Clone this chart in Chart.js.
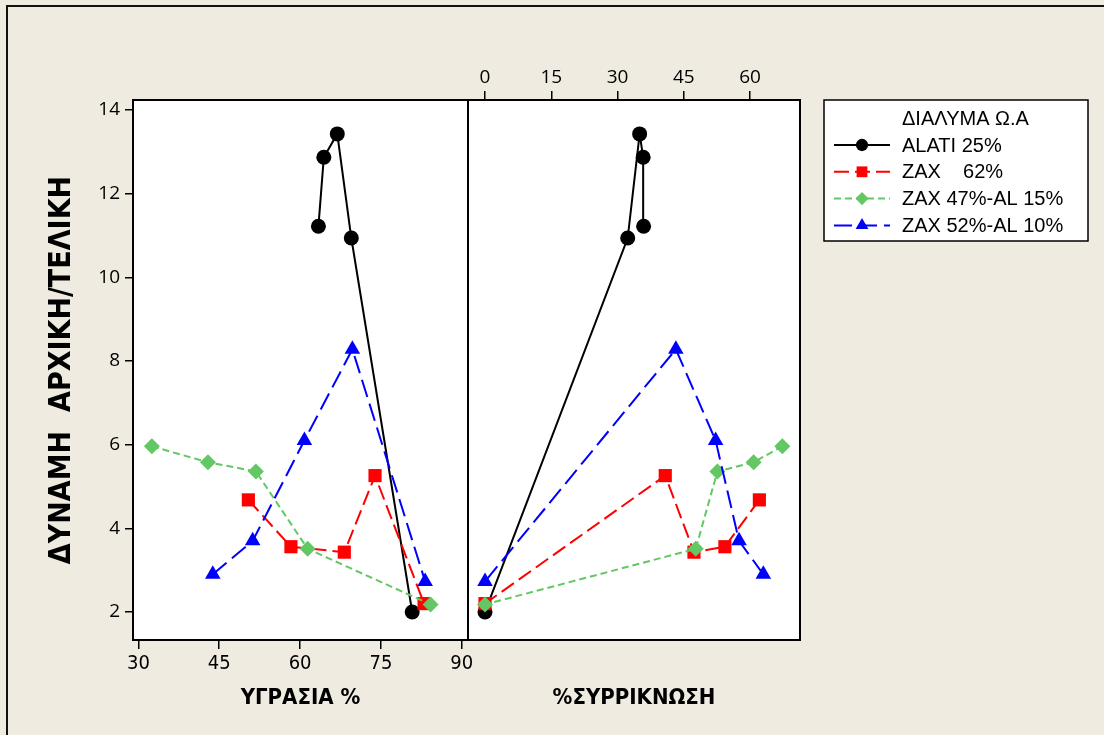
<!DOCTYPE html>
<html>
<head>
<meta charset="utf-8">
<title>ΔΥΝΑΜΗ ΑΡΧΙΚΗ/ΤΕΛΙΚΗ</title>
<script src="https://cdn.jsdelivr.net/npm/chart.js@4.4.1/dist/chart.umd.min.js"></script>
<style>
  html, body { margin: 0; padding: 0; background: #EFEBE1; }
  #wrap { position: relative; width: 1104px; height: 735px; overflow: hidden; background: #EFEBE1; }
  #frame { position: absolute; left: 6px; top: 5px; right: -10px; bottom: -10px;
           border-top: 2px solid #111; border-left: 2px solid #111; }
  canvas { position: absolute; left: 0; top: 0; }
</style>
</head>
<body>
<div id="wrap">
  <div id="frame"></div>
  <canvas id="moistureChart" width="1104" height="735"></canvas>
  <canvas id="shrinkageChart" width="1104" height="735"></canvas>
</div>
<script>
// ---- data: five samples per solution, listed in the same order in every array ----
const seriesNames = ['ALATI 25%', 'ZAX    62%', 'ZAX 47%-AL 15%', 'ZAX 52%-AL 10%'];
const legendTitle = 'ΔΙΑΛΥΜΑ Ω.Α';

// ΥΓΡΑΣΙΑ %
const alatiMoisture = [63.4, 64.4, 66.9, 69.5, 80.8];
const zax62Moisture = [50.4, 58.3, 68.2, 73.9, 83.0];
const zax47Moisture = [32.5, 42.9, 51.8, 61.4, 84.2];
const zax52Moisture = [43.8, 51.2, 60.8, 69.7, 83.2];

// %ΣΥΡΡΙΚΝΩΣΗ
const alatiShrinkage = [35.9, 35.8, 35.0, 32.3, 0];
const zax62Shrinkage = [62.1, 54.3, 47.3, 40.8, 0];
const zax47Shrinkage = [67.3, 60.8, 52.6, 47.7, 0];
const zax52Shrinkage = [63.0, 57.5, 52.2, 43.2, 0];

// ΔΥΝΑΜΗ ΑΡΧΙΚΗ/ΤΕΛΙΚΗ
const alatiStrength = [11.22, 12.87, 13.43, 10.94, 2.0];
const zax62Strength = [4.68, 3.56, 3.43, 5.26, 2.2];
const zax47Strength = [5.96, 5.58, 5.36, 3.51, 2.18];
const zax52Strength = [2.9, 3.7, 6.1, 8.28, 2.73];

// tick labels
const strengthTicks = [2, 4, 6, 8, 10, 12, 14];
const moistureTicks = [30, 45, 60, 75, 90];
const shrinkageTicks = [0, 15, 30, 45, 60];

// ---- appearance ----
const NARROW = '"Liberation Sans Narrow", "DejaVu Sans Condensed", "Liberation Sans", sans-serif';
const TICKFONT = '"Open Sans", "Liberation Sans", sans-serif';
const LEGENDFONT = '"Liberation Sans", Arial, sans-serif';

const seriesStyles = [
  { color: '#000000', point: 'circle',   radius: 7.5, dash: [],      order: 4 },
  { color: '#FF0000', point: 'rect',     radius: 9.3, dash: [15, 6], order: 3 },
  { color: '#63C763', point: 'rectRot',  radius: 8,   dash: [7, 4],  order: 2 },
  { color: '#0000FF', point: 'triangle', radius: 9,   dash: [18, 7], order: 1 }
];

const strengthSeries = [alatiStrength, zax62Strength, zax47Strength, zax52Strength];
const moistureSeries = [alatiMoisture, zax62Moisture, zax47Moisture, zax52Moisture];
const shrinkageSeries = [alatiShrinkage, zax62Shrinkage, zax47Shrinkage, zax52Shrinkage];

function buildDatasets(xSeries, xAxisID) {
  return seriesNames.map((name, s) => {
    const st = seriesStyles[s];
    return {
      label: name,
      data: xSeries[s].map((x, i) => ({ x: x, y: strengthSeries[s][i] })),
      xAxisID: xAxisID,
      yAxisID: 'y',
      borderColor: st.color,
      backgroundColor: st.color,
      pointBackgroundColor: st.color,
      pointBorderColor: st.color,
      pointBorderWidth: 0,
      pointStyle: st.point,
      pointRadius: st.radius,
      pointHoverRadius: st.radius,
      borderWidth: 2,
      borderDash: st.dash,
      tension: 0,
      fill: false,
      order: st.order
    };
  });
}

// white panel with a black frame
const panelFrame = {
  id: 'panelFrame',
  beforeDraw(chart) {
    const a = chart.chartArea, ctx = chart.ctx;
    ctx.save();
    ctx.fillStyle = '#FFFFFF';
    ctx.fillRect(a.left, a.top, a.right - a.left, a.bottom - a.top);
    ctx.restore();
  },
  afterDatasetsDraw(chart) {
    const a = chart.chartArea, ctx = chart.ctx;
    ctx.save();
    ctx.strokeStyle = '#000000';
    ctx.lineWidth = 2;
    ctx.strokeRect(a.left, a.top, a.right - a.left, a.bottom - a.top);
    ctx.restore();
  }
};

function drawMarker(ctx, style, x, y, r) {
  ctx.beginPath();
  if (style === 'circle') {
    ctx.arc(x, y, r, 0, Math.PI * 2);
  } else if (style === 'rect') {
    const s = r * Math.SQRT1_2;
    ctx.rect(x - s, y - s, 2 * s, 2 * s);
  } else if (style === 'rectRot') {
    ctx.moveTo(x - r, y); ctx.lineTo(x, y - r); ctx.lineTo(x + r, y); ctx.lineTo(x, y + r);
    ctx.closePath();
  } else {
    const h = r * Math.sin(Math.PI / 3);
    ctx.moveTo(x, y - r); ctx.lineTo(x + h, y + r / 2); ctx.lineTo(x - h, y + r / 2);
    ctx.closePath();
  }
  ctx.fill();
}

// legend with line + symbol samples
const sampleLegend = {
  id: 'sampleLegend',
  afterDraw(chart) {
    const ctx = chart.ctx;
    const box = { left: 824, top: 100, right: 1088, bottom: 241 };
    ctx.save();
    ctx.fillStyle = '#FFFFFF';
    ctx.fillRect(box.left, box.top, box.right - box.left, box.bottom - box.top);
    ctx.strokeStyle = '#000000';
    ctx.lineWidth = 1.5;
    ctx.strokeRect(box.left, box.top, box.right - box.left, box.bottom - box.top);
    ctx.font = '20px ' + LEGENDFONT;
    ctx.fillStyle = '#000000';
    ctx.textAlign = 'left';
    ctx.textBaseline = 'middle';
    ctx.fillText(legendTitle, 902, 119.5);
    chart.data.datasets.forEach((ds, i) => {
      const y = 145 + i * 26.8;
      ctx.strokeStyle = ds.borderColor;
      ctx.lineWidth = ds.borderWidth;
      ctx.setLineDash(ds.borderDash);
      ctx.beginPath();
      ctx.moveTo(834, y);
      ctx.lineTo(890, y);
      ctx.stroke();
      ctx.setLineDash([]);
      ctx.fillStyle = ds.pointBackgroundColor;
      drawMarker(ctx, ds.pointStyle, 862, y, ds.pointRadius * 0.82);
      ctx.fillStyle = '#000000';
      ctx.fillText(ds.label, 902, y + 1);
    });
    ctx.restore();
  }
};

function fixSize(prop, value) {
  return function (scale) {
    scale[prop] = value;
    scale.paddingLeft = 0; scale.paddingRight = 0;
    scale.paddingTop = 0; scale.paddingBottom = 0;
  };
}
function setTicks(list) {
  return function (scale) { scale.ticks = list.map(v => ({ value: v })); };
}

const strengthMin = 1.33, strengthMax = 14.24;

const tickGrid = (len) => ({
  display: true, drawOnChartArea: false, drawTicks: true,
  tickLength: len, color: '#000000', lineWidth: 1.5
});

// left panel: strength against moisture
new Chart(document.getElementById('moistureChart'), {
  type: 'line',
  data: { datasets: buildDatasets(moistureSeries, 'x') },
  options: {
    responsive: false,
    animation: false,
    devicePixelRatio: 1,
    layout: { padding: { left: 0, top: 100, right: 636, bottom: 0 } },
    plugins: { legend: { display: false }, tooltip: { enabled: false } },
    scales: {
      x: {
        type: 'linear', position: 'bottom', min: 29.0, max: 91.15,
        afterBuildTicks: setTicks(moistureTicks),
        afterFit: fixSize('height', 95),
        ticks: { font: { family: NARROW, size: 20 }, color: '#000', padding: 3, maxRotation: 0 },
        grid: tickGrid(9),
        border: { display: false },
        title: { display: true, text: 'ΥΓΡΑΣΙΑ %', color: '#000',
                 font: { family: NARROW, size: 22, weight: 'bold' },
                 padding: { top: 0, bottom: 24 } }
      },
      y: {
        type: 'linear', position: 'left', min: strengthMin, max: strengthMax,
        afterBuildTicks: setTicks(strengthTicks),
        afterFit: fixSize('width', 133),
        ticks: { font: { family: TICKFONT, size: 19 }, color: '#000', padding: 5 },
        grid: tickGrid(8),
        border: { display: false },
        title: { display: true, text: 'ΔΥΝΑΜΗ  ΑΡΧΙΚΗ/ΤΕΛΙΚΗ', color: '#000',
                 font: { family: NARROW, size: 30, weight: 'bold' },
                 padding: { top: 44, bottom: 0 } }
      }
    }
  },
  plugins: [panelFrame]
});

// right panel: strength against shrinkage
new Chart(document.getElementById('shrinkageChart'), {
  type: 'line',
  data: { datasets: buildDatasets(shrinkageSeries, 'xt') },
  options: {
    responsive: false,
    animation: false,
    devicePixelRatio: 1,
    layout: { padding: { left: 468, top: 0, right: 304, bottom: 0 } },
    plugins: { legend: { display: false }, tooltip: { enabled: false } },
    scales: {
      xt: {
        type: 'linear', position: 'top', min: -3.85, max: 71.3,
        afterBuildTicks: setTicks(shrinkageTicks),
        afterFit: fixSize('height', 100),
        ticks: { font: { family: TICKFONT, size: 19 }, color: '#000', padding: 2, maxRotation: 0 },
        grid: tickGrid(9),
        border: { display: false }
      },
      xb: {
        type: 'linear', position: 'bottom', min: 0, max: 1,
        afterFit: fixSize('height', 95),
        ticks: { display: false },
        grid: { display: false },
        border: { display: false },
        title: { display: true, text: '%ΣΥΡΡΙΚΝΩΣΗ', color: '#000',
                 font: { family: NARROW, size: 22, weight: 'bold' },
                 padding: { top: 0, bottom: 24 } }
      },
      y: { type: 'linear', display: false, min: strengthMin, max: strengthMax }
    }
  },
  plugins: [panelFrame, sampleLegend]
});
</script>
</body>
</html>
